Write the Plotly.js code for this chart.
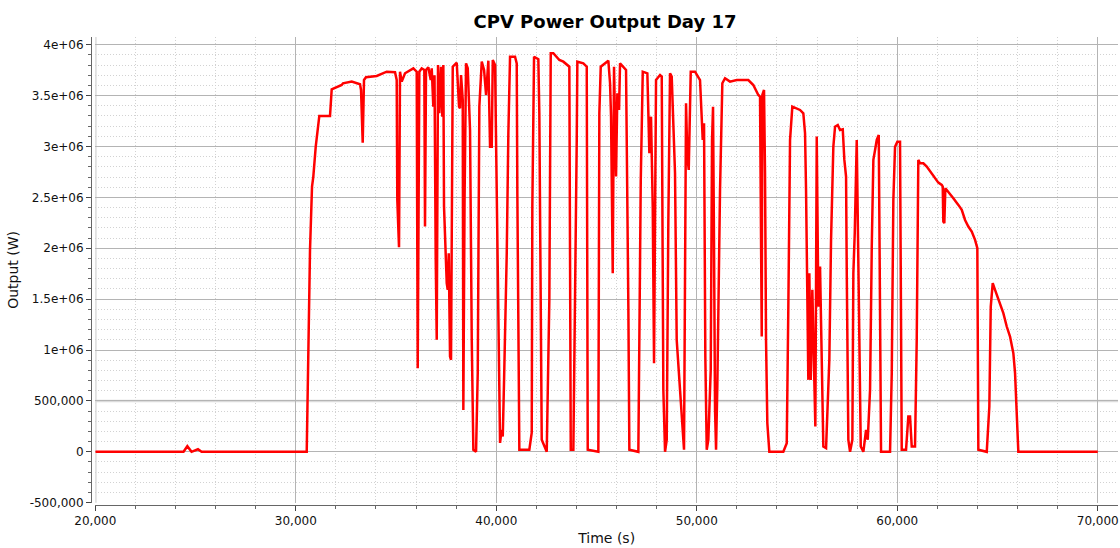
<!DOCTYPE html>
<html>
<head>
<meta charset="utf-8">
<script src="https://cdn.plot.ly/plotly-3.0.1.min.js"></script>
<style>html,body{margin:0;padding:0;background:#fff;}#chart{width:1120px;height:548px;}</style>
</head>
<body>
<div id="chart"></div>
<script>
// Time of day (s)
const timeS = [
  20000, 24400, 24590, 24800, 25120, 25300, 30545, 30609, 30709, 30809,
  30874, 30994, 31123, 31173, 31706, 31791, 32290, 32355, 32789, 33203,
  33253, 33337, 33402, 33502, 34036, 34535, 34949, 35033, 35063, 35148,
  35198, 35283, 35448, 35862, 36031, 36081, 36161, 36280, 36410, 36445,
  36495, 36610, 36730, 36780, 36859, 36919, 36979, 37029, 37094, 37159,
  37244, 37309, 37359, 37393, 37528, 37578, 37628, 37693, 37743, 37808,
  37828, 38027, 38142, 38192, 38242, 38327, 38357, 38417, 38491, 38576,
  38691, 38776, 38856, 38990, 39075, 39155, 39275, 39390, 39490, 39604,
  39689, 39774, 39824, 39939, 40023, 40103, 40188, 40263, 40323, 40388,
  40522, 40602, 40686, 40935, 41020, 41050, 41150, 41648, 41768, 41798,
  41883, 42097, 42147, 42267, 42516, 42646, 42716, 42846, 43145, 43345,
  43515, 43644, 43714, 43844, 44013, 44043, 44342, 44512, 44561, 45090,
  45140, 45210, 45589, 45674, 45724, 45759, 45808, 45873, 45923, 45973,
  46038, 46123, 46173, 46472, 46587, 46637, 47086, 47206, 47306, 47535,
  47635, 47718, 47803, 47868, 47968, 48167, 48252, 48332, 48417, 48501,
  48581, 48666, 48750, 48915, 48999, 49299, 49364, 49464, 49529, 49599,
  49699, 49913, 50162, 50297, 50362, 50427, 50496, 50576, 50696, 50761,
  50811, 50861, 50911, 50961, 51025, 51160, 51275, 51409, 51658, 51993,
  52242, 52571, 52820, 53070, 53155, 53190, 53240, 53270, 53354, 53404,
  53454, 53519, 53619, 54317, 54487, 54567, 54652, 54766, 54986, 55150,
  55315, 55400, 55450, 55515, 55565, 55615, 55684, 55764, 55849, 55914,
  55984, 56064, 56148, 56233, 56313, 56448, 56612, 56697, 56812, 56897,
  57032, 57146, 57281, 57361, 57446, 57481, 57560, 57645, 57760, 57810,
  57879, 57979, 58029, 58109, 58179, 58309, 58443, 58528, 58643, 58728,
  58808, 58893, 58977, 59077, 59107, 59191, 59640, 59725, 59805, 59889,
  60004, 60138, 60223, 60438, 60552, 60637, 60722, 60886, 60971, 61050,
  61136, 61301, 61470, 61720, 61884, 62049, 62219, 62268, 62298, 62348,
  62398, 62548, 62797, 63047, 63216, 63381, 63545, 63715, 63880, 63994,
  64044, 64463, 64593, 64663, 64762, 64877, 65126, 65291, 65460, 65625,
  65790, 65875, 66039, 70000
];

// CPV power output (W)
const outputW = [
  0, 0, 55000, 0, 25000, 0, 0, 739000, 1984000, 2606000,
  2704000, 2998000, 3261000, 3300000, 3300000, 3562000, 3604000, 3621000, 3637000, 3611000,
  3555000, 3038000, 3653000, 3680000, 3693000, 3735000, 3729000, 3653000, 2475000, 2010000,
  3735000, 3637000, 3719000, 3768000, 3735000, 822000, 3735000, 3768000, 3752000, 2213000,
  3752000, 3778000, 3653000, 3768000, 3391000, 3700000, 1886000, 1100000, 3801000, 3326000,
  3784000, 3293000, 3801000, 2409000, 1657000, 1591000, 1951000, 936000, 904000, 2900000,
  3784000, 3823000, 3391000, 3375000, 3702000, 3457000, 412000, 2475000, 3817000, 3768000,
  3162000, 1100000, 20000, 0, 776000, 3391000, 3833000, 3752000, 3506000, 3843000,
  2998000, 2998000, 3850000, 3801000, 2541000, 1329000, 88000, 216000, 150000, 700000,
  1954000, 3130000, 3882000, 3882000, 3817000, 2541000, 20000, 20000, 187000, 2409000,
  3882000, 3857000, 3326000, 118000, 0, 1493000, 3916000, 3916000, 3850000, 3833000,
  3801000, 3784000, 20000, 20000, 3064000, 3833000, 3817000, 3784000, 20000, 0,
  3326000, 3784000, 3843000, 3621000, 3293000, 2475000, 1755000, 3784000, 3391000, 2704000,
  3523000, 3359000, 3817000, 3752000, 1427000, 20000, 0, 2671000, 3735000, 3719000,
  2934000, 3293000, 2409000, 871000, 3653000, 3702000, 3686000, 609000, 0, 118000,
  2246000, 3719000, 3686000, 2737000, 1100000, 118000, 20000, 3425000, 2900000, 2770000,
  3735000, 3735000, 3653000, 3064000, 3228000, 936000, 20000, 118000, 805000, 3064000,
  3391000, 2016000, 412000, 20000, 641000, 2573000, 3621000, 3670000, 3637000, 3653000,
  3653000, 3653000, 3604000, 3506000, 3489000, 2409000, 1132000, 3506000, 3555000, 2737000,
  1100000, 282000, 0, 0, 85000, 1427000, 3064000, 3391000, 3375000, 3359000,
  3326000, 3130000, 2573000, 1427000, 707000, 1755000, 707000, 1591000, 773000, 248000,
  3097000, 1427000, 1820000, 773000, 52000, 36000, 904000, 2082000, 2998000, 3195000,
  3211000, 3162000, 3169000, 2868000, 2704000, 1755000, 118000, 0, 118000, 1755000,
  2148000, 3064000, 2409000, 1362000, 52000, 0, 216000, 118000, 609000, 2016000,
  2868000, 2966000, 3064000, 3113000, 2082000, 0, 0, 773000, 2475000, 2998000,
  3047000, 3047000, 20000, 20000, 347000, 347000, 52000, 52000, 1100000, 2868000,
  2835000, 2835000, 2802000, 2737000, 2688000, 2645000, 2622000, 2606000, 2262000, 2246000,
  2590000, 2556000, 2492000, 2426000, 2377000, 2278000, 2213000, 2164000, 2082000, 2000000,
  20000, 0, 445000, 1427000, 1657000, 1591000, 1460000, 1362000, 1231000, 1132000,
  969000, 773000, 0, 0
];

// Axis ticks and labels
const xTickVals = [20000, 30000, 40000, 50000, 60000, 70000];
const xTickText = ['20,000', '30,000', '40,000', '50,000', '60,000', '70,000'];
const yTickVals = [-500000, 0, 500000, 1000000, 1500000, 2000000, 2500000, 3000000, 3500000, 4000000];
const yTickText = ['-500,000', '0', '500,000', '1e+06', '1.5e+06', '2e+06', '2.5e+06', '3e+06', '3.5e+06', '4e+06'];

const chartTitle = 'CPV Power Output Day 17';
const xTitle = 'Time (s)';
const yTitle = 'Output (W)';

const FONT = 'DejaVu Sans, Verdana, sans-serif';

const trace = {
  x: timeS,
  y: outputW,
  type: 'scatter',
  mode: 'lines',
  line: {color: '#ff0000', width: 2.5},
  hoverinfo: 'x+y',
  showlegend: false
};

const layout = {
  width: 1120,
  height: 548,
  paper_bgcolor: '#ffffff',
  plot_bgcolor: '#ffffff',
  margin: {l: 91, r: 2, t: 37, b: 43, pad: 0},
  font: {family: FONT, size: 12, color: '#111'},
  showlegend: false,
  title: {
    text: '<b>' + chartTitle + '</b>',
    font: {family: FONT, size: 18, color: '#000'},
    xref: 'container', x: 605 / 1120, xanchor: 'center',
    yref: 'container', y: 1 - 22 / 548, yanchor: 'middle'
  },
  xaxis: {
    domain: [0.0042, 1],
    anchor: 'free',
    position: 0,
    range: [20000, 71010],
    tickmode: 'array',
    tickvals: xTickVals,
    ticktext: xTickText,
    ticks: 'outside',
    ticklen: 5,
    tickcolor: '#444',
    showline: true,
    linecolor: '#666',
    linewidth: 1,
    showgrid: true,
    gridcolor: '#b4b4b4',
    gridwidth: 1,
    zeroline: false,
    minor: {
      tickmode: 'linear', tick0: 20000, dtick: 2000,
      ticks: 'outside', ticklen: 3, tickcolor: '#666',
      showgrid: true, gridcolor: '#d2d2d2', griddash: '1px,2px', gridwidth: 1
    },
    tickfont: {family: FONT, size: 12, color: '#111'},
    title: {text: xTitle, font: {family: FONT, size: 14, color: '#111'}, standoff: 5}
  },
  yaxis: {
    domain: [0.0049, 1],
    anchor: 'free',
    position: 0,
    range: [-500000, 4075600],
    tickmode: 'array',
    tickvals: yTickVals,
    ticktext: yTickText,
    ticks: 'outside',
    ticklen: 5,
    tickcolor: '#444',
    showline: true,
    linecolor: '#666',
    linewidth: 1,
    showgrid: true,
    gridcolor: '#b4b4b4',
    gridwidth: 1,
    zeroline: false,
    minor: {
      tickmode: 'linear', tick0: 0, dtick: 100000,
      ticks: 'outside', ticklen: 3, tickcolor: '#666',
      showgrid: true, gridcolor: '#d2d2d2', griddash: '1px,2px', gridwidth: 1
    },
    tickfont: {family: FONT, size: 12, color: '#111'},
    title: {text: yTitle, font: {family: FONT, size: 14, color: '#111'}, standoff: 6}
  },
  shapes: [
    {type: 'line', xref: 'paper', x0: 0.0042, x1: 1, yref: 'y', y0: 500000, y1: 500000,
     line: {color: '#dcdcdc', width: 2.5}, layer: 'between'},
    {type: 'line', xref: 'x', x0: 20000, x1: 20000, yref: 'paper', y0: 0.0049, y1: 1,
     line: {color: '#d4d4d4', width: 2.5}, layer: 'between'}
  ]
};

Plotly.newPlot('chart', [trace], layout, {staticPlot: true, displayModeBar: false});
</script>
</body>
</html>
